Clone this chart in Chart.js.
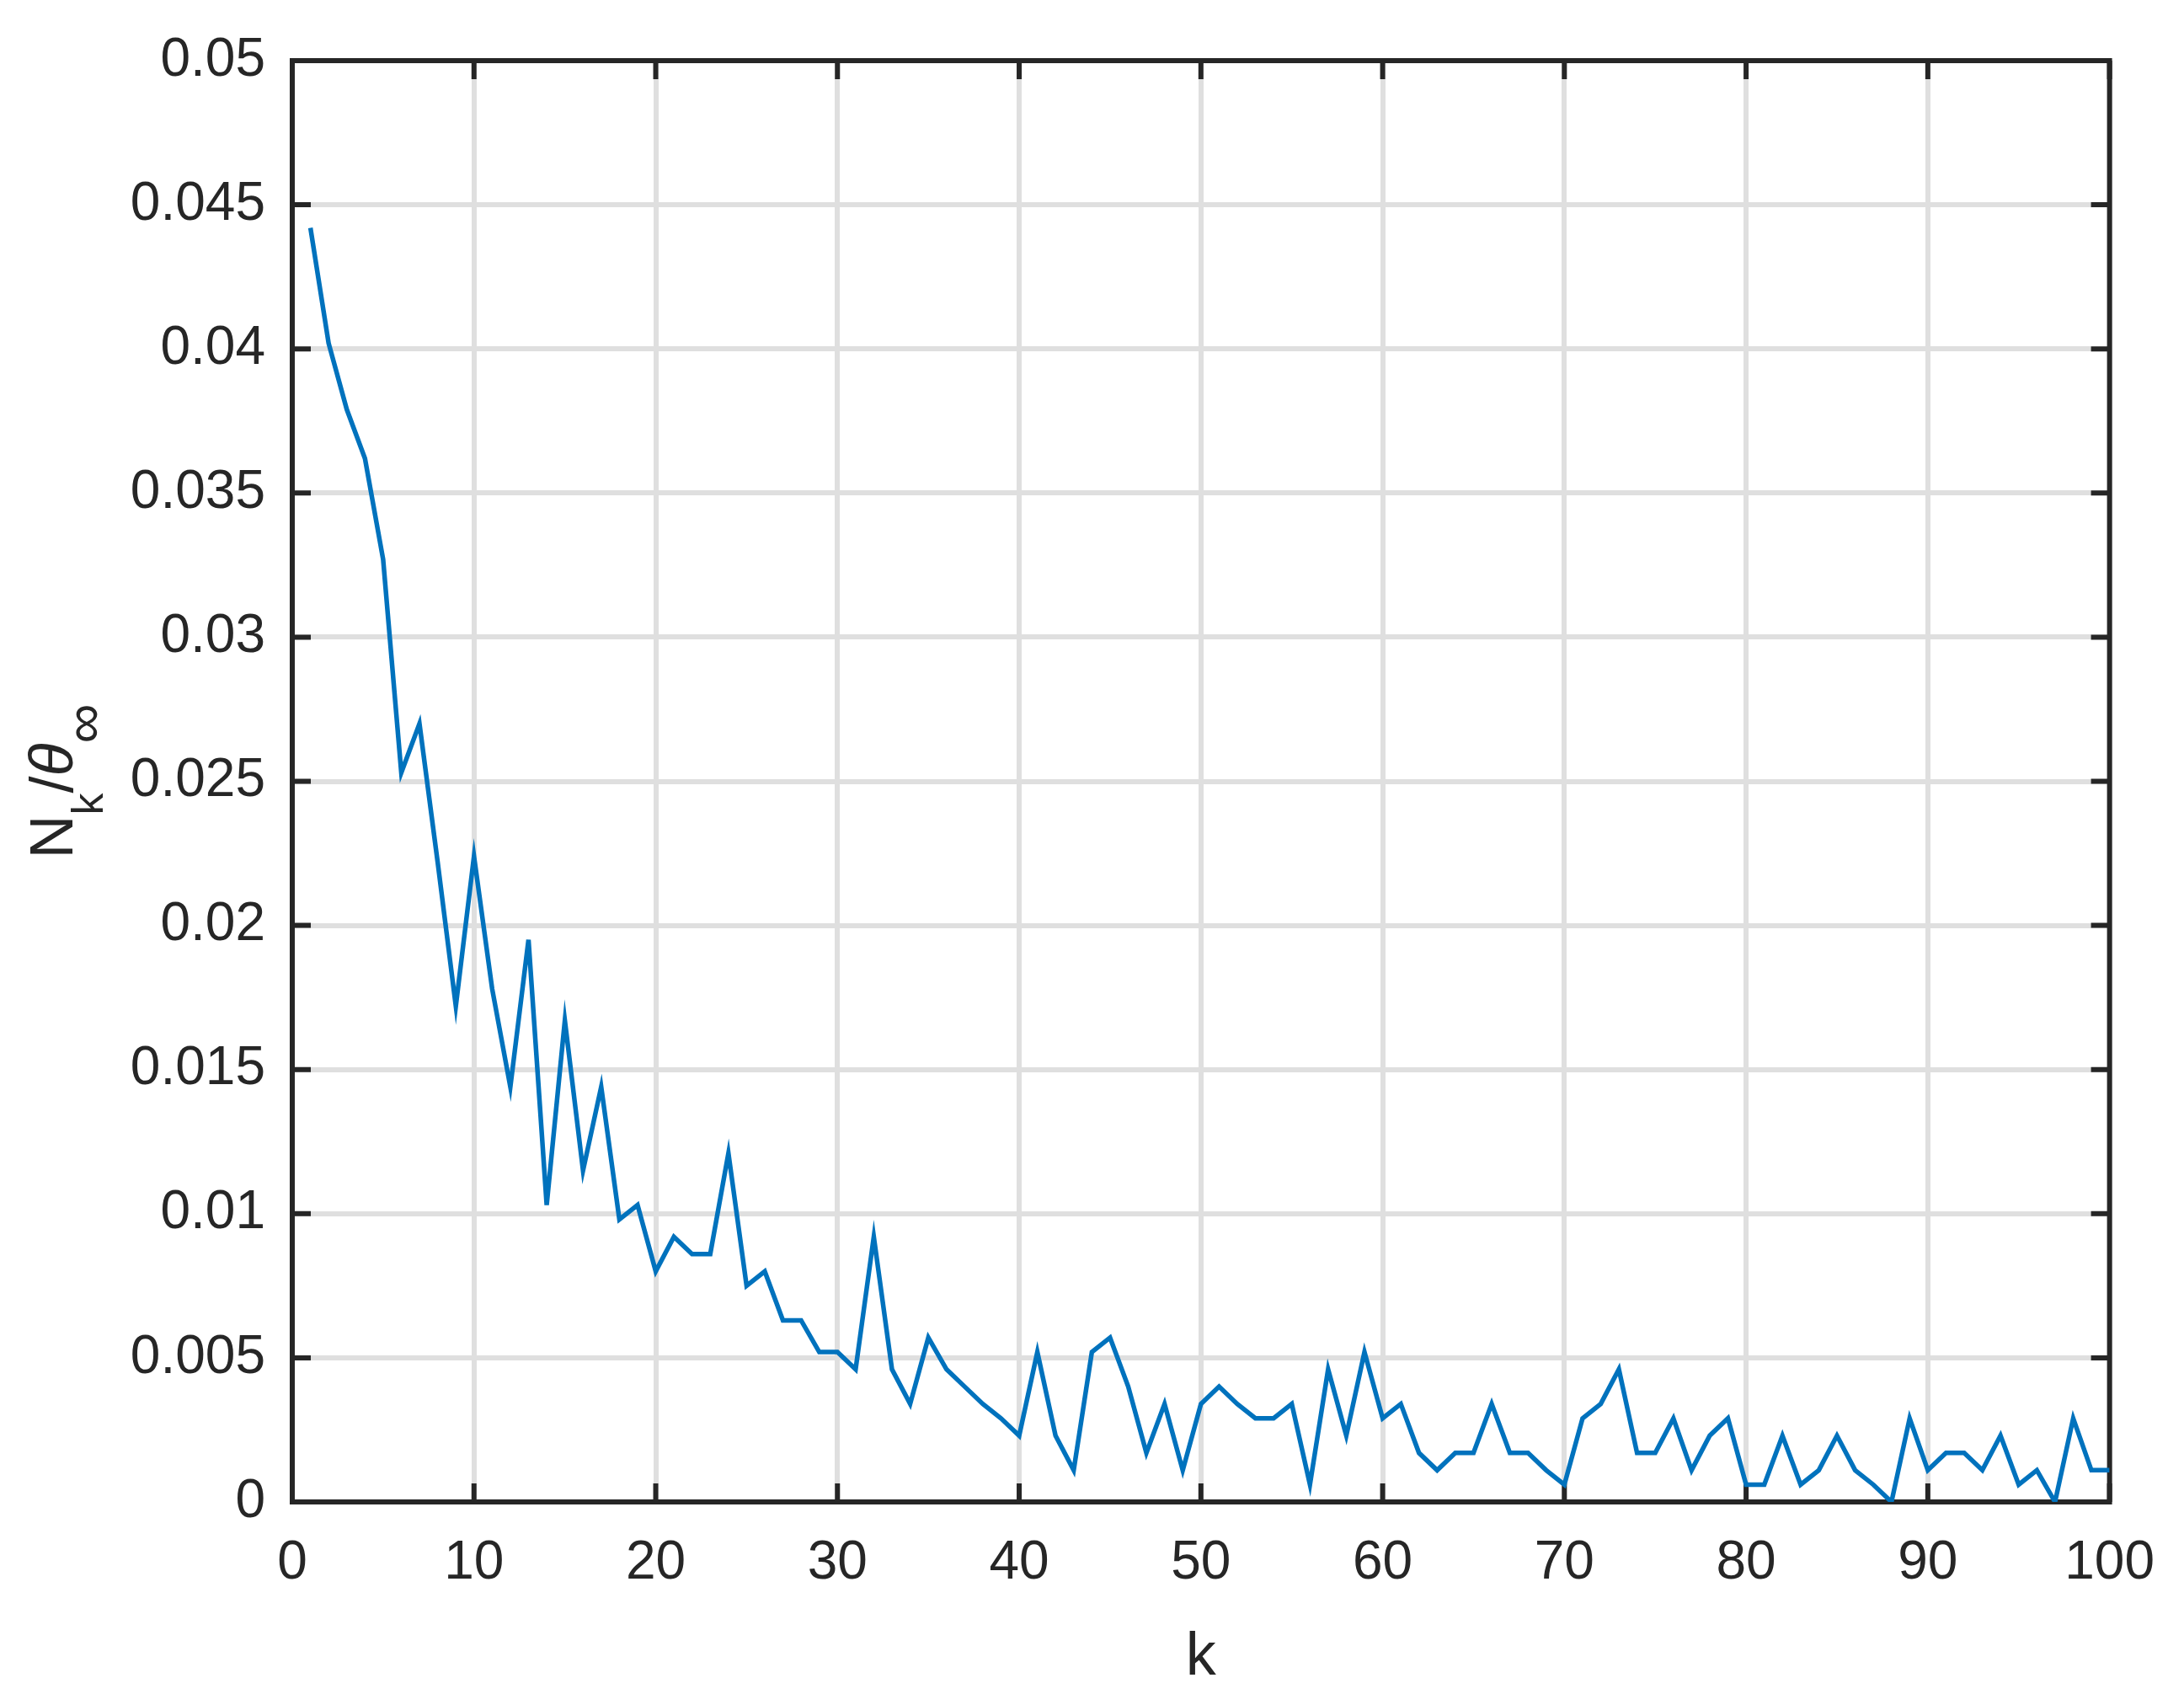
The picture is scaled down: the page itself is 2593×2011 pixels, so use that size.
<!DOCTYPE html>
<html>
<head>
<meta charset="utf-8">
<script src="https://cdn.jsdelivr.net/npm/chart.js@4.4.1/dist/chart.umd.min.js"></script>
<style>
  html, body { margin: 0; padding: 0; background: #ffffff; }
  #chart { display: block; width: 2593px; height: 2011px; }
</style>
</head>
<body>
<canvas id="chart" width="2593" height="2011"></canvas>
<script>
// k index (x axis)
const kValues = [
  1, 2, 3, 4, 5, 6, 7, 8, 9, 10,
  11, 12, 13, 14, 15, 16, 17, 18, 19, 20,
  21, 22, 23, 24, 25, 26, 27, 28, 29, 30,
  31, 32, 33, 34, 35, 36, 37, 38, 39, 40,
  41, 42, 43, 44, 45, 46, 47, 48, 49, 50,
  51, 52, 53, 54, 55, 56, 57, 58, 59, 60,
  61, 62, 63, 64, 65, 66, 67, 68, 69, 70,
  71, 72, 73, 74, 75, 76, 77, 78, 79, 80,
  81, 82, 83, 84, 85, 86, 87, 88, 89, 90,
  91, 92, 93, 94, 95, 96, 97, 98, 99, 100
];

// N_k / theta_inf
const nkRatio = [
  0.0442, 0.0402, 0.0379, 0.0362, 0.0327, 0.0253, 0.0270, 0.0222, 0.0172, 0.0224,
  0.0178, 0.0144, 0.0195, 0.0103, 0.0167, 0.0115, 0.0144, 0.0098, 0.0103, 0.0080,
  0.0092, 0.0086, 0.0086, 0.0121, 0.0075, 0.0080, 0.0063, 0.0063, 0.0052, 0.0052,
  0.0046, 0.0092, 0.0046, 0.0034, 0.0057, 0.0046, 0.0040, 0.0034, 0.0029, 0.0023,
  0.0052, 0.0023, 0.0011, 0.0052, 0.0057, 0.0040, 0.0017, 0.0034, 0.0011, 0.0034,
  0.0040, 0.0034, 0.0029, 0.0029, 0.0034, 0.0006, 0.0046, 0.0023, 0.0052, 0.0029,
  0.0034, 0.0017, 0.0011, 0.0017, 0.0017, 0.0034, 0.0017, 0.0017, 0.0011, 0.0006,
  0.0029, 0.0034, 0.0046, 0.0017, 0.0017, 0.0029, 0.0011, 0.0023, 0.0029, 0.0006,
  0.0006, 0.0023, 0.0006, 0.0011, 0.0023, 0.0011, 0.0006, 0.0000, 0.0029, 0.0011,
  0.0017, 0.0017, 0.0011, 0.0023, 0.0006, 0.0011, 0.0000, 0.0029, 0.0011, 0.0011
];

const xTickLabels = ['0', '10', '20', '30', '40', '50', '60', '70', '80', '90', '100'];
const yTickLabels = ['0', '0.005', '0.01', '0.015', '0.02', '0.025', '0.03', '0.035', '0.04', '0.045', '0.05'];

const INK = '#262626';
const FONT = 'Liberation Sans';

// Box around the axes + inward ticks on all four sides (MATLAB style)
const frameBox = {
    id: 'frameBox',
    beforeDatasetsDraw(chart) {
        const { ctx, chartArea: a, scales: { x, y } } = chart;
        const len = 22;
        ctx.save();
        ctx.strokeStyle = INK;
        ctx.lineWidth = 6;
        ctx.beginPath();
        x.ticks.forEach(t => {
            const px = x.getPixelForValue(t.value);
            ctx.moveTo(px, a.bottom); ctx.lineTo(px, a.bottom - len);
            ctx.moveTo(px, a.top); ctx.lineTo(px, a.top + len);
        });
        y.ticks.forEach(t => {
            const py = y.getPixelForValue(t.value);
            ctx.moveTo(a.left, py); ctx.lineTo(a.left + len, py);
            ctx.moveTo(a.right, py); ctx.lineTo(a.right - len, py);
        });
        ctx.stroke();
        ctx.strokeRect(a.left, a.top, a.right - a.left, a.bottom - a.top);
        ctx.restore();
    }
};

// Rotated y title with subscripts: N_k / θ_∞
const yTitle = {
    id: 'yTitle',
    afterDraw(chart) {
        const { ctx, chartArea: a } = chart;
        const parts = [
            { t: 'N', font: `72px "${FONT}"`, dy: 0 },
            { t: 'k', font: `52px "${FONT}"`, dy: 36 },
            { t: '/', font: `72px "${FONT}"`, dy: 0 },
            { t: '\u03B8', font: `italic 72px "${FONT}"`, dy: 0 },
            { t: '\u221E', font: `66px "${FONT}"`, dy: 36 }
        ];
        ctx.save();
        let total = 0;
        parts.forEach(p => { ctx.font = p.font; p.w = ctx.measureText(p.t).width; total += p.w; });
        ctx.translate(86, (a.top + a.bottom) / 2);
        ctx.rotate(-Math.PI / 2);
        ctx.fillStyle = INK;
        ctx.textBaseline = 'alphabetic';
        ctx.textAlign = 'left';
        let cx = -total / 2;
        parts.forEach(p => {
            ctx.font = p.font;
            ctx.fillText(p.t, cx, p.dy);
            cx += p.w;
        });
        ctx.restore();
    }
};

const canvas = document.getElementById('chart');
new Chart(canvas, {
    type: 'line',
    data: {
        datasets: [{
            data: kValues.map((k, i) => ({ x: k, y: nkRatio[i] })),
            borderColor: '#0072BD',
            borderWidth: 5.5,
            pointRadius: 0,
            tension: 0,
            fill: false
        }]
    },
    options: {
        responsive: false,
        animation: false,
        devicePixelRatio: 1,
        layout: { padding: { top: 72, right: 80, left: 0, bottom: 0 } },
        plugins: { legend: { display: false }, tooltip: { enabled: false } },
        scales: {
            x: {
                type: 'linear',
                min: 0,
                max: 100,
                afterFit: s => { s.height = 228; },
                border: { display: false },
                grid: { color: '#dfdfdf', lineWidth: 6, drawTicks: false },
                ticks: {
                    stepSize: 10,
                    autoSkip: false,
                    maxRotation: 0,
                    padding: 35,
                    color: INK,
                    font: { family: FONT, size: 64 },
                    callback: (v, i) => xTickLabels[i]
                },
                title: {
                    display: true,
                    text: 'k',
                    color: INK,
                    font: { family: FONT, size: 72 },
                    padding: { top: 0, bottom: 0 }
                }
            },
            y: {
                type: 'linear',
                min: 0,
                max: 0.05,
                afterFit: s => { s.width = 347; },
                border: { display: false },
                grid: { color: '#dfdfdf', lineWidth: 6, drawTicks: false },
                ticks: {
                    stepSize: 0.005,
                    autoSkip: false,
                    padding: 32,
                    color: INK,
                    font: { family: FONT, size: 64 },
                    callback: (v, i) => yTickLabels[i]
                }
            }
        }
    },
    plugins: [frameBox, yTitle]
});
</script>
</body>
</html>
